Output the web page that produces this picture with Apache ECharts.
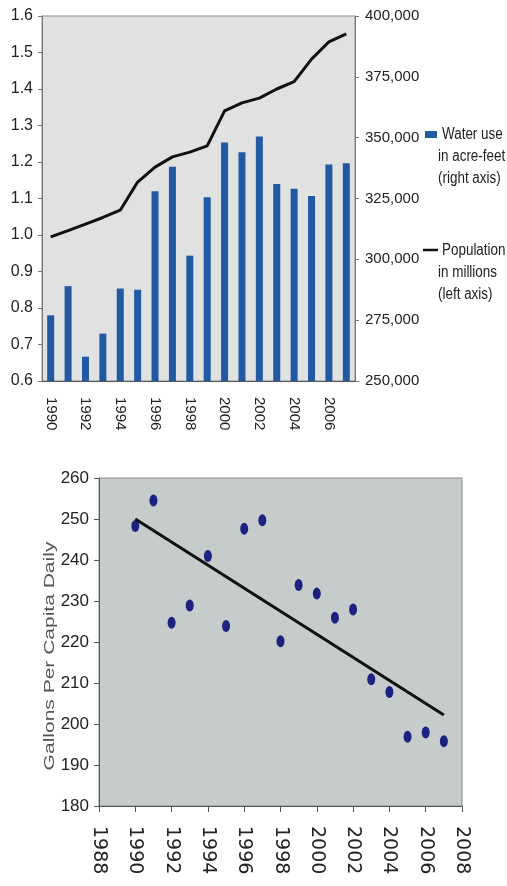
<!DOCTYPE html>
<html>
<head>
    <meta charset="utf-8">
    <title>Water use and GPCD</title>
    <script src="https://cdn.jsdelivr.net/npm/echarts@6/dist/echarts.min.js"></script>
    <style>
        body { margin: 0; background: #fff; }
        #main { width: 507px; height: 886px; }
    </style>
</head>
<body>
<div id="main"></div>
<script type="text/javascript">
    // top chart: water use (bars, right axis) and population (line, left axis)
    var years = ['1990', '1991', '1992', '1993', '1994', '1995', '1996', '1997', '1998',
        '1999', '2000', '2001', '2002', '2003', '2004', '2005', '2006', '2007'];
    var waterUse = [277000, 289000, 260000, 269500, 288000, 287500, 328000, 338000, 301500,
        325500, 348000, 344000, 350500, 331000, 329000, 326000, 339000, 339500];
    var population = [0.995, 1.012, 1.03, 1.048, 1.068, 1.145, 1.186, 1.214, 1.227,
        1.244, 1.34, 1.362, 1.375, 1.40, 1.42, 1.482, 1.529, 1.551];

    // bottom chart: gallons per capita daily + trend line
    var gpcdYears = [1990, 1991, 1992, 1993, 1994, 1995, 1996, 1997, 1998,
        1999, 2000, 2001, 2002, 2003, 2004, 2005, 2006, 2007];
    var gpcd = [248.3, 254.5, 224.7, 228.9, 241, 223.9, 247.6, 249.7, 220.2,
        233.9, 231.8, 225.9, 227.9, 210.9, 207.8, 196.9, 197.9, 195.8];
    var trendYears = [1990, 2007];
    var trendValues = [250, 202.2];

    var sans = '"Liberation Sans", Arial, sans-serif';

    var myChart = echarts.init(document.getElementById('main'));

    var scatterData = [];
    for (var i = 0; i < gpcdYears.length; i++) {
        scatterData.push([gpcdYears[i], gpcd[i]]);
    }
    var trendData = [];
    for (var j = 0; j < trendYears.length; j++) {
        trendData.push([trendYears[j], trendValues[j]]);
    }

    // legend text, squeezed a bit like the narrow font of the original
    function legendText(txt, x, y) {
        return {
            type: 'text', x: x, y: y, scaleX: 0.84,
            style: {text: txt, font: '16px ' + sans, fill: '#222', verticalAlign: 'middle'}
        };
    }

    myChart.setOption({
        animation: false,
        grid: [
            {left: 42, top: 16, width: 313, height: 365, show: true,
                backgroundColor: '#e0e2e2', borderColor: '#8c8c8c', borderWidth: 1},
            {left: 99, top: 478, width: 363, height: 328, show: true,
                backgroundColor: '#c6cbcb', borderColor: '#8c8c8c', borderWidth: 1}
        ],
        xAxis: [
            {
                gridIndex: 0,
                type: 'category',
                data: years,
                axisLine: {lineStyle: {color: '#555', width: 1}},
                axisTick: {show: false},
                axisLabel: {
                    interval: 1, rotate: -90, margin: 16,
                    fontFamily: sans, fontSize: 15, color: '#222'
                }
            },
            {
                gridIndex: 1,
                type: 'value',
                min: 1988, max: 2008, interval: 2,
                splitLine: {show: false},
                axisLine: {lineStyle: {color: '#555', width: 1}},
                axisTick: {show: true, length: 6, lineStyle: {color: '#555'}},
                axisLabel: {
                    rotate: -90, margin: 20,
                    fontFamily: '"DejaVu Sans", sans-serif',
                    fontSize: 19, color: '#222',
                    formatter: function (v) { return String(v); }
                }
            }
        ],
        yAxis: [
            {
                gridIndex: 0,
                type: 'value',
                min: 0.6, max: 1.6, interval: 0.1,
                splitLine: {show: false},
                axisLine: {show: true, lineStyle: {color: '#777'}},
                axisTick: {show: true, length: 4, lineStyle: {color: '#777'}},
                axisLabel: {
                    fontFamily: sans, fontSize: 16, color: '#222', margin: 9,
                    formatter: function (v) { return v.toFixed(1); }
                }
            },
            {
                gridIndex: 0,
                type: 'value',
                position: 'right',
                min: 250000, max: 400000, interval: 25000,
                splitLine: {show: false},
                axisLine: {show: true, lineStyle: {color: '#777'}},
                axisTick: {show: true, length: 4, lineStyle: {color: '#777'}},
                axisLabel: {
                    fontFamily: sans, fontSize: 15, color: '#222', margin: 10,
                    formatter: function (v) { return v.toLocaleString('en-US'); }
                }
            },
            {
                gridIndex: 1,
                type: 'value',
                min: 180, max: 260, interval: 10,
                splitLine: {show: false},
                axisLine: {show: true, lineStyle: {color: '#555'}},
                axisTick: {show: true, length: 5, lineStyle: {color: '#555'}},
                axisLabel: {fontFamily: sans, fontSize: 17, color: '#222', margin: 10}
            }
        ],
        series: [
            {
                name: 'Water use in acre-feet (right axis)',
                type: 'bar',
                xAxisIndex: 0, yAxisIndex: 1,
                data: waterUse,
                barWidth: 7,
                itemStyle: {color: '#2159a3'}
            },
            {
                name: 'Population in millions (left axis)',
                type: 'line',
                xAxisIndex: 0, yAxisIndex: 0,
                data: population,
                showSymbol: false,
                lineStyle: {color: '#111', width: 3}
            },
            {
                name: 'GPCD',
                type: 'scatter',
                xAxisIndex: 1, yAxisIndex: 2,
                data: scatterData,
                symbol: 'circle',
                symbolSize: [8, 12],
                itemStyle: {color: '#1b2280', opacity: 1}
            },
            {
                name: 'Trend',
                type: 'line',
                xAxisIndex: 1, yAxisIndex: 2,
                data: trendData,
                showSymbol: false,
                lineStyle: {color: '#111', width: 3}
            }
        ],
        graphic: [
            // legend of the top chart
            {type: 'rect', shape: {x: 425, y: 131, width: 12, height: 7}, style: {fill: '#2159a3'}},
            legendText('Water use', 442, 135),
            legendText('in acre-feet', 438, 157),
            legendText('(right axis)', 438, 179),
            {type: 'line', shape: {x1: 423, y1: 250, x2: 438, y2: 250}, style: {stroke: '#111', lineWidth: 2.5}},
            legendText('Population', 442, 251),
            legendText('in millions', 438, 273),
            legendText('(left axis)', 438, 295),
            // y axis title of the bottom chart
            {
                type: 'text', x: 50, y: 656, rotation: Math.PI / 2, scaleX: 1.5,
                style: {
                    text: 'Gallons Per Capita Daily', font: '14px ' + sans, fill: '#555',
                    align: 'center', verticalAlign: 'middle'
                }
            }
        ]
    });
</script>
</body>
</html>
